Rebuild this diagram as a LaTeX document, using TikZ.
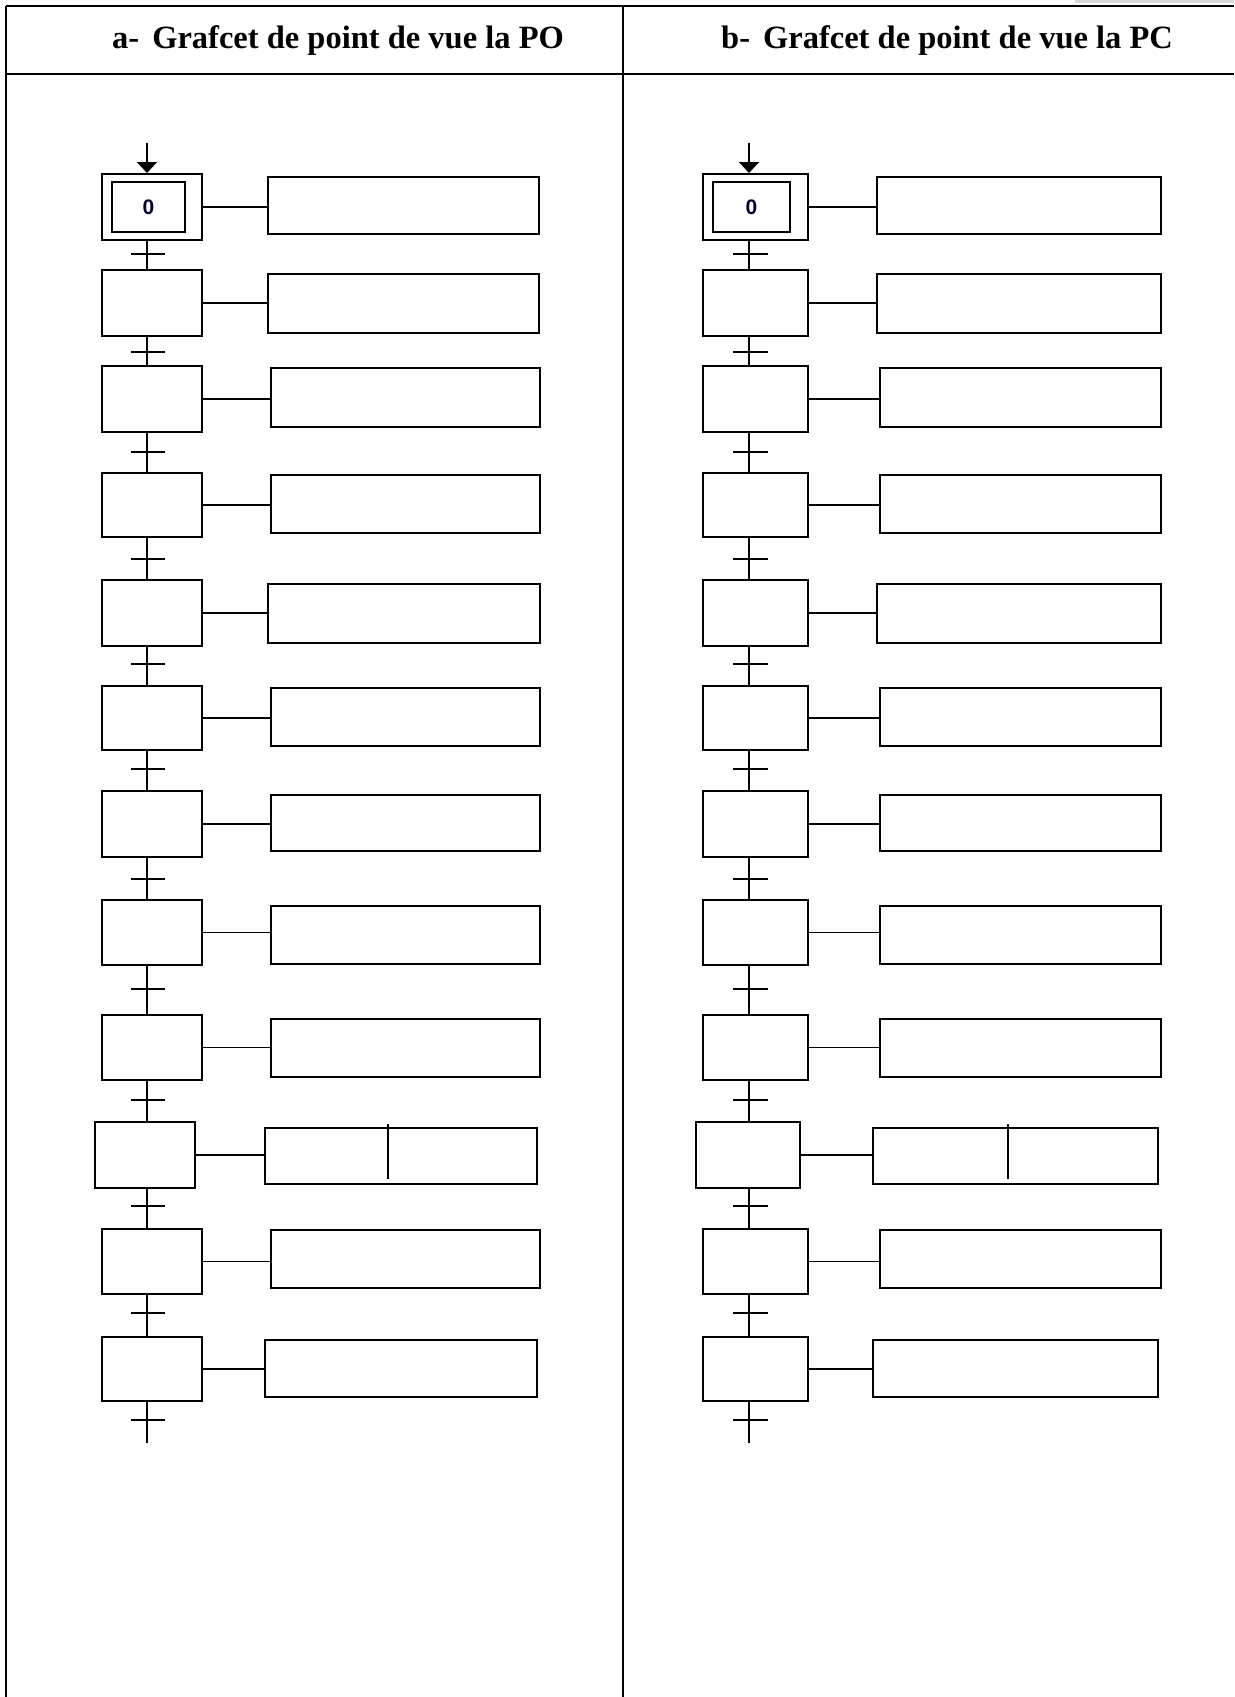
\documentclass[tikz,border=0pt]{standalone}
\usepackage{fontspec}
\setmainfont{Liberation Serif}
\newfontfamily\stepfont{Liberation Sans}
\usetikzlibrary{arrows.meta}
\begin{document}
\begin{tikzpicture}[x=1pt,y=-1pt,
  stepbox/.style={draw, line width=2pt, inner sep=0pt, anchor=north west},
  actbox/.style={draw, line width=2pt, inner sep=0pt, anchor=north west},
  conn/.style={line width=1.5pt},
  vline/.style={line width=2.2pt},
  transmark/.style={line width=1.6pt},
  tableline/.style={line width=2pt},
  head/.style={font=\fontsize{32.5}{36}\selectfont\bfseries, inner sep=0pt, anchor=base west},
  initlabel/.style={font=\stepfont\fontsize{21}{22}\selectfont\bfseries, text=black!80!blue, inner sep=0pt}
]
\fill[white] (0,0) rectangle (1234,1697);
\useasboundingbox (0,0) rectangle (1234,1697);
% faint mark at top right
\fill[black!15] (1075,0) rectangle (1234,3);
% table
\draw[tableline] (6,6) -- (1234,6);
\draw[tableline] (6,74) -- (1234,74);
\draw[tableline] (6,6) -- (6,1697);
\draw[tableline] (623,6) -- (623,1697);
\node[head] (ha) at (112,48) {a-\hspace{13pt}Grafcet de point de vue la PO};
\node[head] (hb) at (721,48) {b-\hspace{13pt}Grafcet de point de vue la PC};

% ---------- left column ----------
\coordinate (Lm) at (147,0);
\foreach \i/\st/\sb/\at/\ab/\tr/\al/\ar/\sl/\sr in {
 0/173/239/176/233/254/267/538/101/201,
 1/269/335/273/332/352/267/538/101/201,
 2/365/431/367/426/452/270/539/101/201,
 3/472/536/474/532/559/270/539/101/201,
 4/579/645/583/642/664/267/539/101/201,
 5/685/749/687/745/769/270/539/101/201,
 6/790/856/794/850/879/270/539/101/201,
 7/899/964/905/963/989/270/539/101/201,
 8/1014/1079/1018/1076/1100/270/539/101/201,
 9/1121/1187/1127/1183/1206/264/536/94/194,
 10/1228/1293/1229/1287/1313/270/539/101/201,
 11/1336/1400/1339/1396/1420/264/536/101/201}{
  \pgfmathsetmacro\sw{\sr-\sl}
  \pgfmathsetmacro\sh{\sb-\st}
  \pgfmathsetmacro\aw{\ar-\al}
  \pgfmathsetmacro\ah{\ab-\at}
  \node[stepbox, minimum width=\sw pt, minimum height=\sh pt] (Ls\i) at (\sl,\st) {};
  \node[actbox, minimum width=\aw pt, minimum height=\ah pt] (La\i) at (\al,\at) {};
  \draw[conn] (Ls\i.east) -- (Ls\i.east -| La\i.west);
  \coordinate (Lt\i) at (147,\tr);
}
\foreach \i [evaluate=\i as \p using int(\i-1)] in {1,...,11}{
  \draw[vline] (Ls\p.south -| Lm) -- (Ls\i.north -| Lm);
}
\coordinate (Lend) at (147,1443);
\draw[vline] (Ls11.south -| Lm) -- (Lend);
\foreach \i in {0,...,11}{
  \draw[transmark] ([xshift=-16pt]Lt\i) -- ([xshift=18pt]Lt\i);
}
% initial step
\node[stepbox, line width=1.8pt, minimum width=73pt, minimum height=50pt] (Li) at (111,181) {};
\node[initlabel] (L0lab) at (Li.center) {0};
\coordinate (Lstart) at (147,143);
\draw[line width=2pt, -{Triangle[width=20pt,length=11pt]}] (Lstart) -- (Ls0.north -| Lm);
% divider in row 9
\coordinate (Ld1) at (388,1124);
\coordinate (Ld2) at (388,1179);
\draw[line width=1.6pt] (Ld1) -- (Ld2);

% ---------- right column ----------
\coordinate (Rm) at (749,0);
\foreach \i/\st/\sb/\at/\ab/\tr/\al/\ar/\sl/\sr in {
 0/173/239/176/233/254/876/1160/702/807,
 1/269/335/273/332/352/876/1160/702/807,
 2/365/431/367/426/452/879/1160/702/807,
 3/472/536/474/532/559/879/1160/702/807,
 4/579/645/583/642/664/876/1160/702/807,
 5/685/749/687/745/769/879/1160/702/807,
 6/790/856/794/850/879/879/1160/702/807,
 7/899/964/905/963/989/879/1160/702/807,
 8/1014/1079/1018/1076/1100/879/1160/702/807,
 9/1121/1187/1127/1183/1206/872/1157/695/799,
 10/1228/1293/1229/1287/1313/879/1160/702/807,
 11/1336/1400/1339/1396/1420/872/1157/702/807}{
  \pgfmathsetmacro\sw{\sr-\sl}
  \pgfmathsetmacro\sh{\sb-\st}
  \pgfmathsetmacro\aw{\ar-\al}
  \pgfmathsetmacro\ah{\ab-\at}
  \node[stepbox, minimum width=\sw pt, minimum height=\sh pt] (Rs\i) at (\sl,\st) {};
  \node[actbox, minimum width=\aw pt, minimum height=\ah pt] (Ra\i) at (\al,\at) {};
  \draw[conn] (Rs\i.east) -- (Rs\i.east -| Ra\i.west);
  \coordinate (Rt\i) at (749,\tr);
}
\foreach \i [evaluate=\i as \p using int(\i-1)] in {1,...,11}{
  \draw[vline] (Rs\p.south -| Rm) -- (Rs\i.north -| Rm);
}
\coordinate (Rend) at (749,1443);
\draw[vline] (Rs11.south -| Rm) -- (Rend);
\foreach \i in {0,...,11}{
  \draw[transmark] ([xshift=-16pt]Rt\i) -- ([xshift=19pt]Rt\i);
}
\node[stepbox, line width=1.8pt, minimum width=77pt, minimum height=50pt] (Ri) at (712,181) {};
\node[initlabel] (R0lab) at (Ri.center) {0};
\coordinate (Rstart) at (749,143);
\draw[line width=2pt, -{Triangle[width=20pt,length=11pt]}] (Rstart) -- (Rs0.north -| Rm);
\coordinate (Rd1) at (1008,1124);
\coordinate (Rd2) at (1008,1179);
\draw[line width=1.6pt] (Rd1) -- (Rd2);
\end{tikzpicture}
\end{document}
